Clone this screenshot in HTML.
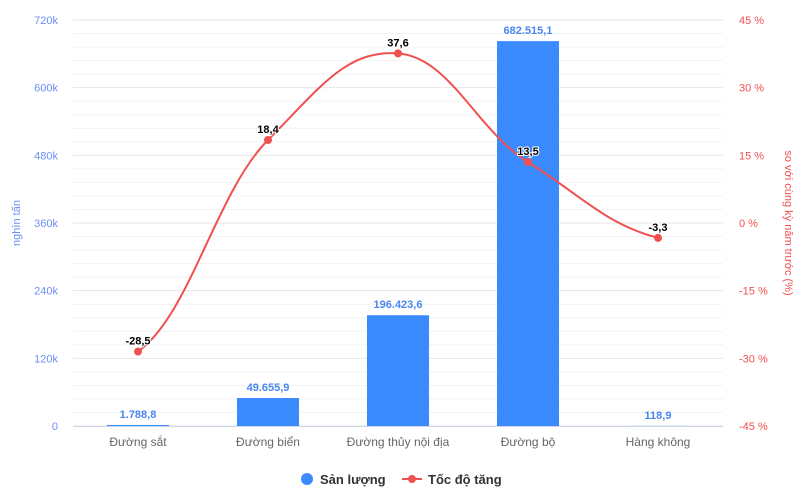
<!DOCTYPE html>
<html><head><meta charset="utf-8"><style>
body{margin:0;background:#fff;font-family:"Liberation Sans","Noto Sans CJK SC",sans-serif}
svg{display:block}
</style></head><body>
<svg id="c" width="800" height="500"></svg>
<script>
const categories=["Đường sắt","Đường biển","Đường thủy nội địa","Đường bộ","Hàng không"];
const volume=[1788.8,49655.9,196423.6,682515.1,118.9];
const volumeLabels=["1.788,8","49.655,9","196.423,6","682.515,1","118,9"];
const growth=[-28.5,18.4,37.6,13.5,-3.3];
const growthLabels=["-28,5","18,4","37,6","13,5","-3,3"];
const leftTicks=[0,120000,240000,360000,480000,600000,720000];
const leftTickLabels=["0","120k","240k","360k","480k","600k","720k"];
const rightTicks=[-45,-30,-15,0,15,30,45];
const rightTickLabels=["-45 %","-30 %","-15 %","0 %","15 %","30 %","45 %"];
const NS="http://www.w3.org/2000/svg";
const svg=document.getElementById('c');
const X0=73,X1=723,Y0=426,Y1=20;
const band=(X1-X0)/categories.length;
const xc=i=>X0+band*(i+0.5);
const yL=v=>Y0-(v/720000)*(Y0-Y1);
const yR=v=>Y0-((v+45)/90)*(Y0-Y1);
function el(t,a,txt){const e=document.createElementNS(NS,t);for(const k in a)e.setAttribute(k,a[k]);if(txt!=null)e.textContent=txt;svg.appendChild(e);return e;}
// grid minor
for(let v=0;v<=720000;v+=24000){
 const g=el('line',{x1:X0,x2:X1,y1:yL(v),y2:yL(v),stroke:v%120000===0?'#e6e6e6':'#f2f2f2','stroke-width':1});
 
 
}
// left ticks
leftTicks.forEach((v,i)=>{
 const t=el('text',{x:58,y:yL(v)+4,'text-anchor':'end','font-size':11,fill:'#6d8ff5'},leftTickLabels[i]);
 
 
});
rightTicks.forEach((v,i)=>{
 const t=el('text',{x:739,y:yR(v)+4,'text-anchor':'start','font-size':11,fill:'#f05050'},rightTickLabels[i]);
 
 
});
const lt=el('text',{x:20,y:223,'text-anchor':'middle','font-size':11,fill:'#6d8ff5',transform:'rotate(-90 20 223)'},'nghìn tấn');


const rt=el('text',{x:785,y:223,'text-anchor':'middle','font-size':11,fill:'#f05050',transform:'rotate(90 785 223)'},'so với cùng kỳ năm trước (%)');


// bars
volume.forEach((v,i)=>{
 const w=62,y=yL(v);
 const b=el('rect',{x:xc(i)-w/2,y:y,width:w,height:Y0-y,fill:'#3b8bff'});
 
 
 const t=el('text',{x:xc(i),y:y-7,'text-anchor':'middle','font-size':11,'font-weight':'bold',fill:'#4a86f0'},volumeLabels[i]);
 
 
});
const ax=el('line',{x1:X0,x2:X1,y1:Y0+0.5,y2:Y0+0.5,stroke:'#ccd6eb'});


categories.forEach((c,i)=>{
 const t=el('text',{x:xc(i),y:446,'text-anchor':'middle','font-size':12,fill:'#666'},c);
 
 
});
// spline
const pts=growth.map((v,i)=>[xc(i),yR(v)]);
let d='M'+pts[0][0]+','+pts[0][1];
const s=0.35;
for(let i=0;i<pts.length-1;i++){
 const p0=pts[i-1]||pts[i],p1=pts[i],p2=pts[i+1],p3=pts[i+2]||p2;
 const c1=[p1[0]+(p2[0]-p0[0])*s/ (i===0?1:2)*1,p1[1]+(p2[1]-p0[1])*s/2];
 const c2=[p2[0]-(p3[0]-p1[0])*s/2,p2[1]-(p3[1]-p1[1])*s/2];
 c1[0]=p1[0]+band*0.4;c2[0]=p2[0]-band*0.4;
 d+=' C'+c1[0]+','+c1[1]+' '+c2[0]+','+c2[1]+' '+p2[0]+','+p2[1];
}
const ln=el('path',{d:d,fill:'none',stroke:'#f05050','stroke-width':2});


pts.forEach((p,i)=>{
 const m=el('circle',{cx:p[0],cy:p[1],r:4,fill:'#f05050'});
 
 
 const t=el('text',{x:p[0],y:p[1]-7,'text-anchor':'middle','font-size':11,'font-weight':'bold',fill:'#000',stroke:'#fff','stroke-width':2,'paint-order':'stroke'},growthLabels[i]);
 
 
});
// legend
const l1=el('circle',{cx:307,cy:479,r:6,fill:'#3b8bff'});


const l1t=el('text',{x:320,y:484,'font-size':13,'font-weight':'bold',fill:'#333'},'Sản lượng');


const l2l=el('line',{x1:402,x2:422,y1:479,y2:479,stroke:'#f05050','stroke-width':2});


const l2=el('circle',{cx:412,cy:479,r:4,fill:'#f05050'});


const l2t=el('text',{x:428,y:484,'font-size':13,'font-weight':'bold',fill:'#333'},'Tốc độ tăng');


</script>
</body></html>
